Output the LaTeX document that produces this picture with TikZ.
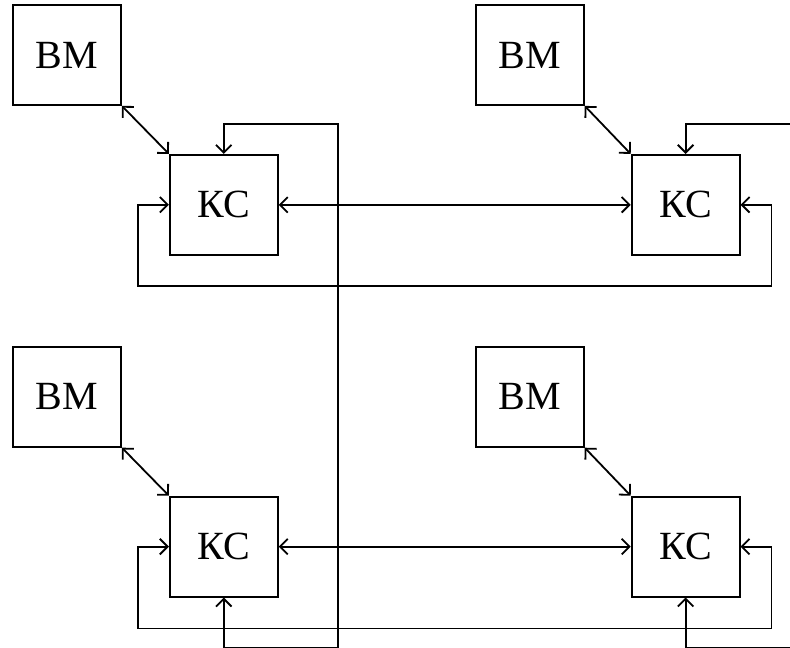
\documentclass[tikz,border=0pt]{standalone}
\usepackage{fontspec}
\setmainfont{Liberation Serif}
\usepackage{tikz}
\usetikzlibrary{arrows.meta,positioning,calc}

\begin{document}
\begin{tikzpicture}[
  x=0.5pt, y=-0.5pt,
  blk/.style={draw, line width=0.9pt, minimum width=54pt, minimum height=50pt,
    inner sep=0pt, font=\fontsize{20}{24}\selectfont},
  dbl/.style={{Straight Barb[angle=90:5.5pt]}-{Straight Barb[angle=90:5.5pt]}, line width=0.9pt},
  ln/.style={line width=0.9pt}
]
  \useasboundingbox (0,0) rectangle (790,647);
  \coordinate (edge) at (790,0);
  % upper pair
  \node[blk] (bm1) at (67,55) {ВМ};
  \node[blk, below right=24pt and 23.5pt of bm1] (kc1) {КС};
  \node[blk, right=176pt of kc1] (kc2) {КС};
  \node[blk, above left=24pt and 23pt of kc2] (bm2) {ВМ};
  % lower pair
  \node[blk, below=120pt of kc1] (kc3) {КС};
  \node[blk, above left=24pt and 23.5pt of kc3] (bm3) {ВМ};
  \node[blk, right=176pt of kc3] (kc4) {КС};
  \node[blk, above left=24pt and 23pt of kc4] (bm4) {ВМ};
  \draw[dbl] (bm1.south east) -- (kc1.north west);
  \draw[dbl] (bm2.south east) -- (kc2.north west);
  \draw[dbl] (bm3.south east) -- (kc3.north west);
  \draw[dbl] (bm4.south east) -- (kc4.north west);
  \draw[dbl] (kc1) -- (kc2);
  \draw[dbl] (kc3) -- (kc4);
  % loops
  \draw[dbl] (kc1.west) -- ++(-15.5pt,0) |- ($(kc2.south east)+(15.5pt,-15pt)$) |- (kc2.east);
  \draw[dbl] (kc3.west) -- ++(-15.5pt,0) |- ($(kc4.south east)+(15.5pt,-15.5pt)$) |- (kc4.east);
  % vertical bus
  \coordinate (bust) at ([yshift=15pt]kc1.north);
  \coordinate (busb) at ([yshift=-25pt]kc3.south);
  \coordinate (busx) at ([xshift=29.5pt]kc1.east);
  \draw[dbl] (kc3.south) -- (busb) -- (busb -| busx) -- (bust -| busx) -- (bust) -- (kc1.north);
  % feeds leaving to the right
  \draw[ln, -{Straight Barb[angle=90:5.5pt]}] (edge |- bust) -| (kc2.north);
  \draw[ln, -{Straight Barb[angle=90:5.5pt]}] (edge |- busb) -| (kc4.south);
\end{tikzpicture}
\end{document}
